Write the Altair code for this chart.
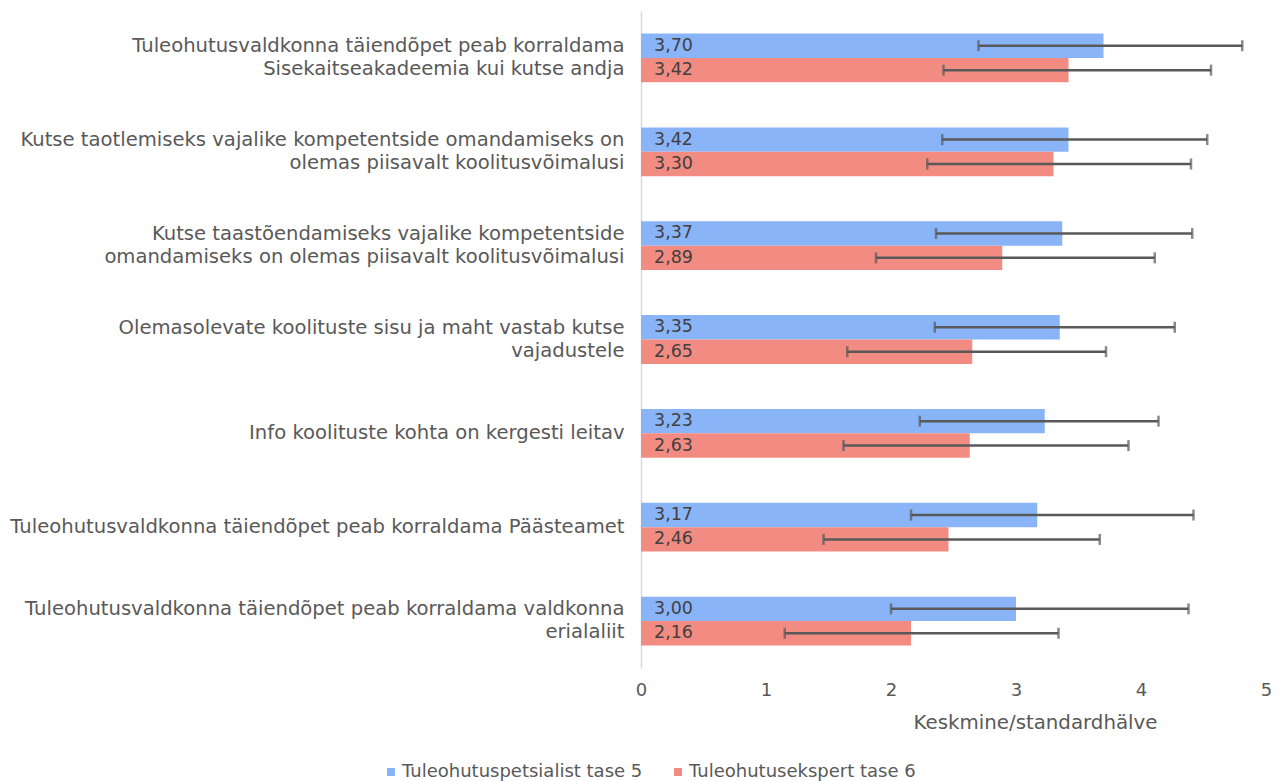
import altair as alt
import pandas as pd

categories = [
    "Tuleohutusvaldkonna täiendõpet peab korraldama|Sisekaitseakadeemia kui kutse andja",
    "Kutse taotlemiseks vajalike kompetentside omandamiseks on|olemas piisavalt koolitusvõimalusi",
    "Kutse taastõendamiseks vajalike kompetentside|omandamiseks on olemas piisavalt koolitusvõimalusi",
    "Olemasolevate koolituste sisu ja maht vastab kutse|vajadustele",
    "Info koolituste kohta on kergesti leitav",
    "Tuleohutusvaldkonna täiendõpet peab korraldama Päästeamet",
    "Tuleohutusvaldkonna täiendõpet peab korraldama valdkonna|erialaliit",
]
series = ["Tuleohutuspetsialist tase 5", "Tuleohutusekspert tase 6"]
colors = ["#8AB4F8", "#F28B82"]

mean_t5 = [3.70, 3.42, 3.37, 3.35, 3.23, 3.17, 3.00]
mean_t6 = [3.42, 3.30, 2.89, 2.65, 2.63, 2.46, 2.16]
low_t5 = [2.70, 2.41, 2.36, 2.35, 2.23, 2.16, 2.00]
high_t5 = [4.81, 4.53, 4.41, 4.27, 4.14, 4.42, 4.38]
low_t6 = [2.42, 2.29, 1.88, 1.65, 1.62, 1.46, 1.15]
high_t6 = [4.56, 4.40, 4.11, 3.72, 3.90, 3.67, 3.34]

x_ticks = [0, 1, 2, 3, 4, 5]
x_title = "Keskmine/standardhälve"

rows = []
for s, means, lows, highs in [
    (series[0], mean_t5, low_t5, high_t5),
    (series[1], mean_t6, low_t6, high_t6),
]:
    for c, m, lo, hi in zip(categories, means, lows, highs):
        rows.append({
            "cat": c, "series": s, "mean": m, "lo": lo, "hi": hi,
            "label": f"{m:.2f}".replace(".", ","),
        })
df = pd.DataFrame(rows)

FONT = "DejaVu Sans"
GREY = "#595959"

y_enc = alt.Y(
    "cat:N", sort=categories, title=None,
    scale=alt.Scale(paddingInner=0.48, paddingOuter=0.24),
    axis=alt.Axis(
        labelExpr="split(datum.label, '|')",
        labelFont=FONT, labelFontSize=19.6, labelColor=GREY,
        labelLineHeight=23, labelAlign="right",
        labelBaseline={
            "condition": {"test": "indexof(datum.value, '|') >= 0", "value": "line-bottom"},
            "value": "middle",
        },
        labelPadding=17, ticks=False, tickSize=0, labelLimit=700,
        domainColor="#D9D9D9", domainWidth=1.5,
        minExtent=633, maxExtent=633, grid=False,
    ),
)
yoff_enc = alt.YOffset("series:N", sort=series, scale=alt.Scale(paddingInner=0, paddingOuter=0))

base = alt.Chart(df).encode(y=y_enc, yOffset=yoff_enc)

x_scale = alt.Scale(domain=[0, 5], nice=False)

bars = base.mark_bar().encode(
    x=alt.X(
        "mean:Q", scale=x_scale, title=x_title,
        axis=alt.Axis(
            values=x_ticks, format="d", grid=False, domain=False, ticks=False, tickSize=0,
            labelFlush=False,
            labelFont=FONT, labelFontSize=18, labelColor=GREY, labelPadding=13,
            titleFont=FONT, titleFontSize=19.8, titleColor=GREY, titleFontWeight="normal",
            titleX=394, titleY=54, titleAlign="center", titleBaseline="middle",
        ),
    ),
    color=alt.Color(
        "series:N", sort=series,
        scale=alt.Scale(domain=series, range=colors),
        legend=alt.Legend(
            title=None, orient="none", legendX=-259, legendY=752,
            direction="horizontal", symbolType="square", symbolSize=64,
            symbolStrokeWidth=0, labelFont=FONT, labelFontSize=18, labelColor=GREY,
            labelLimit=500, columnPadding=26, labelOffset=2, padding=0,
        ),
    ),
)

rules = base.mark_rule(color=GREY, strokeWidth=2.5).encode(
    x=alt.X("lo:Q", scale=x_scale, title=x_title), x2="hi:Q"
)

caps = base.transform_fold(["lo", "hi"], as_=["end", "xv"]).mark_tick(
    color=GREY, thickness=2.5, size=11, orient="vertical"
).encode(x=alt.X("xv:Q", scale=x_scale, title=x_title))

texts = base.mark_text(
    align="left", baseline="middle", dx=13, font=FONT, fontSize=17.5, color="#404040"
).encode(x=alt.datum(0, scale=x_scale), text="label:N")

chart = alt.layer(bars, rules, caps, texts).properties(
    width=625, height=657,
    padding={"left": 0, "top": 3, "right": 0, "bottom": 0},
    background="white",
).configure_view(stroke=None)

chart.save("out.html", embed_options={"renderer": "svg", "actions": False})
